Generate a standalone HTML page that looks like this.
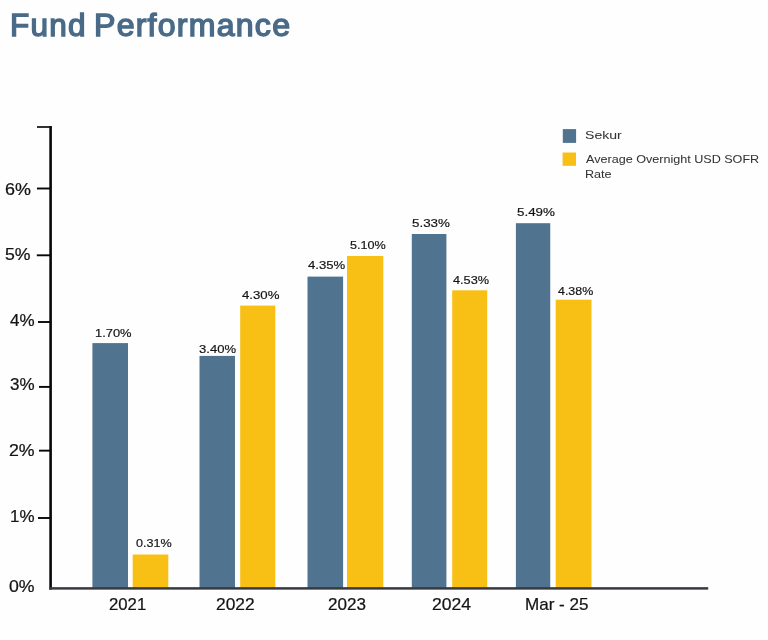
<!DOCTYPE html>
<html lang="en"><head><meta charset="utf-8"><title>Fund Performance</title>
<style>
html,body{margin:0;padding:0;background:#fefefe;}
body{width:768px;height:640px;position:relative;overflow:hidden;font-family:"Liberation Sans",sans-serif;}
.a{position:absolute;}
.t{position:absolute;white-space:nowrap;line-height:1;transform-origin:0 0;margin:0;font-weight:normal;}
#c{position:absolute;left:0;top:0;width:768px;height:640px;}
</style></head><body><div id="c">
<svg class="a" style="left:0;top:0" width="768" height="640" viewBox="0 0 768 640">
<rect x="92.4" y="343.1" width="35.6" height="244.9" fill="#50748f"/>
<rect x="132.7" y="554.5" width="35.6" height="33.5" fill="#f8bf14"/>
<rect x="199.5" y="355.9" width="35.5" height="232.1" fill="#50748f"/>
<rect x="240.2" y="305.6" width="35.1" height="282.4" fill="#f8bf14"/>
<rect x="307.5" y="276.6" width="35.6" height="311.4" fill="#50748f"/>
<rect x="347" y="256" width="36.3" height="332" fill="#f8bf14"/>
<rect x="411.8" y="234" width="34.6" height="354" fill="#50748f"/>
<rect x="452.2" y="290.3" width="35" height="297.7" fill="#f8bf14"/>
<rect x="515.9" y="223.2" width="34.35" height="364.8" fill="#50748f"/>
<rect x="555.7" y="299.7" width="35.8" height="288.3" fill="#f8bf14"/>
<rect x="49.3" y="126" width="2.6" height="463.6" fill="#08080a"/>
<rect x="37" y="126.1" width="13" height="1.8" fill="#1c1c1f"/>
<rect x="49.3" y="587.15" width="658.9" height="2.5" fill="#393a40"/>
<rect x="37" y="187.55" width="13" height="1.9" fill="#08080a"/>
<rect x="36.8" y="254.35" width="13.2" height="1.9" fill="#08080a"/>
<rect x="38" y="321.05" width="12" height="1.9" fill="#08080a"/>
<rect x="39" y="385.95" width="11" height="1.9" fill="#08080a"/>
<rect x="39" y="449.7" width="11" height="1.9" fill="#08080a"/>
<rect x="38" y="517.05" width="12" height="1.9" fill="#08080a"/>
<rect x="562.8" y="129.1" width="13.3" height="13.8" fill="#50748f"/>
<rect x="562.6" y="152.5" width="13.4" height="13.3" fill="#f8bf14"/>
</svg>
<h1 style="margin:0;font-size:inherit">
<span class="t" style="left:9.57px;top:11px;font-size:30.8px;font-weight:normal;color:#4a6b88;-webkit-text-stroke:1.41px #4a6b88;letter-spacing:1.2px;transform:scaleX(1.0229)">Fund</span>
<span class="t" style="left:94.29px;top:11px;font-size:30.8px;font-weight:normal;color:#4a6b88;-webkit-text-stroke:1.41px #4a6b88;letter-spacing:1.2px;transform:scaleX(1.0407)">Performance</span>
</h1>
<div class="t" style="left:4.56px;top:182px;font-size:16px;font-weight:normal;color:#141416;-webkit-text-stroke:0.23px #141416;transform:scaleX(1.1214)">6%</div>
<div class="t" style="left:4.6px;top:247px;font-size:16px;font-weight:normal;color:#141416;-webkit-text-stroke:0.23px #141416;transform:scaleX(1.1023)">5%</div>
<div class="t" style="left:9.78px;top:313px;font-size:16px;font-weight:normal;color:#141416;-webkit-text-stroke:0.23px #141416;transform:scaleX(1.0634)">4%</div>
<div class="t" style="left:9.83px;top:377px;font-size:16px;font-weight:normal;color:#141416;-webkit-text-stroke:0.23px #141416;transform:scaleX(1.0638)">3%</div>
<div class="t" style="left:8.71px;top:443px;font-size:16px;font-weight:normal;color:#141416;-webkit-text-stroke:0.23px #141416;transform:scaleX(1.1093)">2%</div>
<div class="t" style="left:9.89px;top:509px;font-size:16px;font-weight:normal;color:#141416;-webkit-text-stroke:0.23px #141416;transform:scaleX(1.0609)">1%</div>
<div class="t" style="left:8.54px;top:579px;font-size:16px;font-weight:normal;color:#141416;-webkit-text-stroke:0.23px #141416;transform:scaleX(1.1069)">0%</div>
<div class="t" style="left:95.02px;top:328px;font-size:11.4px;font-weight:normal;color:#141416;-webkit-text-stroke:0.18px #141416;transform:scaleX(1.1318)">1.70%</div>
<div class="t" style="left:135.9px;top:538px;font-size:11.4px;font-weight:normal;color:#141416;-webkit-text-stroke:0.18px #141416;transform:scaleX(1.1033)">0.31%</div>
<div class="t" style="left:198.62px;top:344px;font-size:10.6px;font-weight:normal;color:#141416;-webkit-text-stroke:0.17px #141416;transform:scaleX(1.2325)">3.40%</div>
<div class="t" style="left:241.67px;top:290px;font-size:11.4px;font-weight:normal;color:#141416;-webkit-text-stroke:0.18px #141416;transform:scaleX(1.1593)">4.30%</div>
<div class="t" style="left:307.88px;top:260px;font-size:11.4px;font-weight:normal;color:#141416;-webkit-text-stroke:0.18px #141416;transform:scaleX(1.1537)">4.35%</div>
<div class="t" style="left:349.57px;top:240px;font-size:11.4px;font-weight:normal;color:#141416;-webkit-text-stroke:0.18px #141416;transform:scaleX(1.1061)">5.10%</div>
<div class="t" style="left:412.35px;top:218px;font-size:11.4px;font-weight:normal;color:#141416;-webkit-text-stroke:0.18px #141416;transform:scaleX(1.1724)">5.33%</div>
<div class="t" style="left:452.63px;top:275px;font-size:11.4px;font-weight:normal;color:#141416;-webkit-text-stroke:0.18px #141416;transform:scaleX(1.1174)">4.53%</div>
<div class="t" style="left:516.56px;top:207px;font-size:11.4px;font-weight:normal;color:#141416;-webkit-text-stroke:0.18px #141416;transform:scaleX(1.1754)">5.49%</div>
<div class="t" style="left:557.53px;top:286px;font-size:11.4px;font-weight:normal;color:#141416;-webkit-text-stroke:0.18px #141416;transform:scaleX(1.0895)">4.38%</div>
<div class="t" style="left:108.95px;top:596px;font-size:16.4px;font-weight:normal;color:#141416;-webkit-text-stroke:0.23px #141416;transform:scaleX(1.0196)">2021</div>
<div class="t" style="left:215.57px;top:596px;font-size:16.4px;font-weight:normal;color:#141416;-webkit-text-stroke:0.23px #141416;transform:scaleX(1.0600)">2022</div>
<div class="t" style="left:328.09px;top:596px;font-size:16.4px;font-weight:normal;color:#141416;-webkit-text-stroke:0.23px #141416;transform:scaleX(1.0414)">2023</div>
<div class="t" style="left:432.29px;top:596px;font-size:16.4px;font-weight:normal;color:#141416;-webkit-text-stroke:0.23px #141416;transform:scaleX(1.0723)">2024</div>
<div class="t" style="left:524.57px;top:596px;font-size:16.4px;font-weight:normal;color:#141416;-webkit-text-stroke:0.23px #141416;transform:scaleX(1.0403)">Mar - 25</div>
<div class="t" style="left:585.35px;top:130px;font-size:10.6px;font-weight:normal;color:#333337;-webkit-text-stroke:0.04px #333337;transform:scaleX(1.3299)">Sekur</div>
<div class="t" style="left:585.6px;top:154px;font-size:11.2px;font-weight:normal;color:#333337;-webkit-text-stroke:0.04px #333337;transform:scaleX(1.1246)">Average Overnight USD SOFR</div>
<div class="t" style="left:585.05px;top:169px;font-size:10.8px;font-weight:normal;color:#333337;-webkit-text-stroke:0.04px #333337;transform:scaleX(1.1674)">Rate</div>
</div></body></html>
